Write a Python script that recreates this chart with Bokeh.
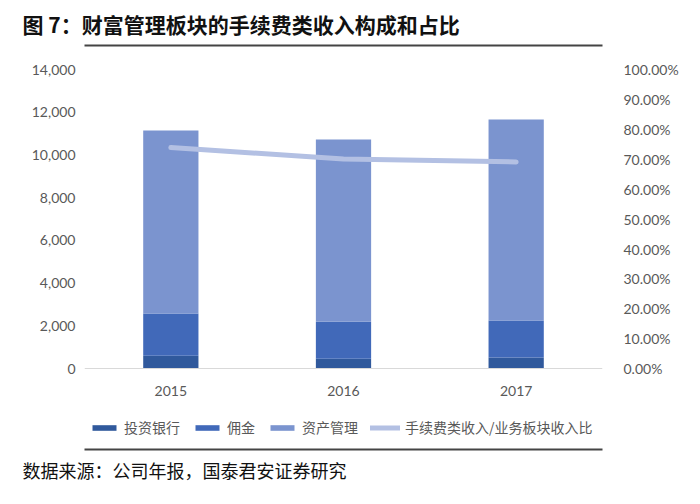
from bokeh.plotting import figure
from bokeh.models import (ColumnDataSource, Range1d, LinearAxis, CategoricalAxis, FactorRange,
                          NumeralTickFormatter, FixedTicker, Legend, LegendItem, Title)
from bokeh.embed import file_html
from bokeh.resources import INLINE

# ---- data ----
years = ["2015", "2016", "2017"]
ib = [600, 460, 520]            # 投资银行
commission = [1980, 1740, 1730]  # 佣金
asset_mgmt = [8570, 8530, 9410]  # 资产管理
ratio = [0.739, 0.701, 0.691]    # 手续费类收入/业务板块收入比
left_ticks = [0, 2000, 4000, 6000, 8000, 10000, 12000, 14000]
right_ticks = [0, 0.1, 0.2, 0.3, 0.4, 0.5, 0.6, 0.7, 0.8, 0.9, 1.0]

title_text = "图 7：财富管理板块的手续费类收入构成和占比"
source_text = "数据来源：公司年报，国泰君安证券研究"
series_names = ["投资银行", "佣金", "资产管理"]
line_name = "手续费类收入/业务板块收入比"

colors = ["#30599c", "#4169b9", "#7b94cf"]
line_color = "#b3c0e3"
CJK = "Noto Sans CJK SC"
NUM = "Lato"
W, H = 684, 488
BL, BR = 84, 82
TOP, BOT = 63, 46          # frame top / bottom borders (px)
ZERO_UP = 75               # px between frame bottom and the zero line (legend room)
PLOT_H = H - TOP - BOT - ZERO_UP   # px from zero line to top tick
y_max, pct_max = 14000, 1.0
y_min = -ZERO_UP / PLOT_H * y_max
pct_min = -ZERO_UP / PLOT_H * pct_max

src = ColumnDataSource(dict(year=years, ib=ib, comm=commission, am=asset_mgmt, ratio=ratio))

p = figure(width=W, height=H, x_range=FactorRange(*years, range_padding=0),
           y_range=Range1d(y_min, y_max), output_backend="svg", toolbar_location=None,
           x_axis_location=None,
           min_border_top=TOP, min_border_bottom=BOT, min_border_left=BL, min_border_right=BR)
p.outline_line_color = None
p.grid.visible = False
p.extra_y_ranges = {"pct": Range1d(pct_min, pct_max)}

rs = p.vbar_stack(["ib", "comm", "am"], x="year", width=0.32, color=colors,
                  line_color=None, source=src)
ln = p.line(x="year", y="ratio", source=src, y_range_name="pct",
            line_color=line_color, line_width=5, line_cap="round", line_join="round")

# left axis
p.yaxis.ticker = FixedTicker(ticks=left_ticks)
p.yaxis.formatter = NumeralTickFormatter(format="0,0")
p.yaxis.axis_line_color = None
p.yaxis.major_tick_line_color = None
p.yaxis.minor_tick_line_color = None
p.yaxis.major_tick_out = 0
p.yaxis.major_label_standoff = 9
p.yaxis.major_label_text_font = NUM
p.yaxis.major_label_text_font_size = "14px"
p.yaxis.major_label_text_color = "#595959"

# right axis
ra = LinearAxis(y_range_name="pct", ticker=FixedTicker(ticks=right_ticks),
                formatter=NumeralTickFormatter(format="0.00%"))
ra.axis_line_color = None
ra.major_tick_line_color = None
ra.minor_tick_line_color = None
ra.major_tick_out = 0
ra.major_label_standoff = 21
ra.major_label_text_font = NUM
ra.major_label_text_font_size = "14px"
ra.major_label_text_color = "#595959"
p.add_layout(ra, "right")


def rule_axis(tick_out, color, width):
    a = CategoricalAxis()
    a.major_tick_out = tick_out
    a.major_tick_in = 0
    a.major_tick_line_color = None
    a.minor_tick_line_color = None
    a.major_label_standoff = 0
    a.major_label_text_font_size = "0px"
    a.major_label_text_alpha = 0
    a.axis_line_color = color
    a.axis_line_width = width
    return a


# above: spacer, rule, title (first = nearest the frame)
p.add_layout(rule_axis(24, None, 1), "above")
p.add_layout(rule_axis(0, "#444444", 2), "above")
p.add_layout(Title(text=title_text, align="left", offset=-62, text_font=CJK,
                   text_font_size="21px", text_font_style="bold", text_color="#111111",
                   standoff=13), "above")

# x axis drawn at the zero line
xa = CategoricalAxis(fixed_location=0)
xa.axis_line_color = "#d9d9d9"
xa.axis_line_width = 1
xa.major_tick_line_color = None
xa.minor_tick_line_color = None
xa.major_tick_out = 0
xa.major_tick_in = 0
xa.major_label_standoff = 17
xa.major_label_text_font = NUM
xa.major_label_text_font_size = "14px"
xa.major_label_text_color = "#595959"
p.add_layout(xa, "below")

p.add_layout(rule_axis(7, None, 1), "below")
p.add_layout(rule_axis(0, "#444444", 2), "below")
p.add_layout(Title(text=source_text, align="left", offset=-62, text_font=CJK,
                   text_font_size="18px", text_font_style="normal", text_color="#111111",
                   standoff=10), "below")

items = [LegendItem(label=n, renderers=[r]) for n, r in zip(series_names, rs)]
items.append(LegendItem(label=line_name, renderers=[ln]))
leg = Legend(items=items, orientation="horizontal", location=(5, 5),
             label_text_font=CJK, label_text_font_size="14px", label_text_color="#595959",
             glyph_width=30, glyph_height=7, spacing=12, label_standoff=5,
             border_line_color=None, background_fill_alpha=0, margin=0, padding=2)
p.add_layout(leg, "center")

open("out.html", "w").write(file_html(p, INLINE))
